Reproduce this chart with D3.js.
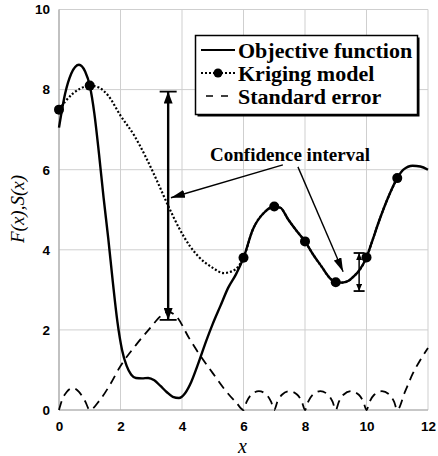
<!DOCTYPE html>
<html>
<head>
<meta charset="utf-8">
<script src="https://cdn.jsdelivr.net/npm/d3@7/dist/d3.min.js"></script>
<style>
  html, body { margin: 0; padding: 0; background: #fff; }
  svg { display: block; }
  .tick text { font-family: "Liberation Sans", Arial, sans-serif; font-weight: bold; font-size: 13.5px; fill: #000; }
</style>
</head>
<body>
<svg id="chart" width="438" height="456"></svg>
<script>
// Objective function F(x)
const objX = [0, 0.2, 0.4, 0.65, 0.85, 1.0, 1.15, 1.3, 1.45, 1.6, 1.75, 1.9, 2.05, 2.2, 2.35, 2.5, 2.7, 2.9, 3.1, 3.3, 3.5, 3.7, 3.9, 4.1, 4.3, 4.5, 4.8, 5.0, 5.25, 5.5, 5.75, 6.0, 6.3, 6.7, 7.0, 7.2, 7.46, 7.75, 8.0, 8.25, 8.54, 8.8, 9.0, 9.2, 9.4, 9.6, 9.75, 10.0, 10.2, 10.4, 10.7, 11.0, 11.2, 11.5, 11.75, 12.0];
const objY = [7.05, 7.9, 8.4, 8.62, 8.45, 8.1, 7.4, 6.4, 5.3, 4.3, 3.2, 2.2, 1.5, 1.1, 0.88, 0.8, 0.79, 0.8, 0.74, 0.6, 0.45, 0.33, 0.3, 0.42, 0.7, 1.1, 1.75, 2.15, 2.6, 3.05, 3.38, 3.8, 4.5, 4.95, 5.08, 5.05, 4.75, 4.45, 4.21, 3.9, 3.58, 3.3, 3.19, 3.18, 3.22, 3.35, 3.47, 3.81, 4.25, 4.7, 5.3, 5.79, 6.0, 6.1, 6.08, 6.0];

// Kriging model prediction
const krigX = [0, 0.2, 0.45, 0.7, 1.0, 1.3, 1.6, 2.0, 2.45, 2.8, 3.2, 3.55, 3.9, 4.25, 4.55, 5.0, 5.35, 5.65, 5.85, 6.0, 6.3, 6.7, 7.0, 7.2, 7.46, 7.75, 8.0, 8.25, 8.54, 8.8, 9.0, 9.2, 9.4, 9.6, 9.75, 10.0, 10.2, 10.4, 10.7, 11.0];
const krigY = [7.5, 7.7, 7.9, 8.03, 8.1, 8.05, 7.85, 7.35, 6.85, 6.35, 5.7, 5.1, 4.55, 4.1, 3.82, 3.55, 3.42, 3.47, 3.6, 3.8, 4.5, 4.95, 5.08, 5.05, 4.75, 4.45, 4.21, 3.9, 3.58, 3.3, 3.19, 3.18, 3.22, 3.35, 3.47, 3.81, 4.25, 4.7, 5.3, 5.79];

// Sample points
const sampleX = [0, 1, 6, 7, 8, 9, 10, 11];
const sampleY = [7.5, 8.1, 3.8, 5.08, 4.21, 3.19, 3.81, 5.79];

// Standard error S(x)
const seX = [0, 0.1, 0.25, 0.45, 0.65, 0.85, 1.0, 1.33, 1.65, 2.0, 2.5, 3.0, 3.3, 3.55, 3.8, 4.25, 4.6, 5.0, 5.4, 5.78, 6.0,
  6.1, 6.25, 6.5, 6.75, 6.9, 7.0, 7.1, 7.25, 7.5, 7.75, 7.9, 8.0, 8.1, 8.25, 8.5, 8.75, 8.9, 9.0,
  9.1, 9.25, 9.5, 9.75, 9.9, 10.0, 10.1, 10.25, 10.5, 10.75, 10.9, 11.0, 11.25, 11.5, 11.75, 12.0];
const seY = [0, 0.25, 0.45, 0.55, 0.45, 0.22, 0, 0.25, 0.62, 1.1, 1.62, 2.08, 2.34, 2.45, 2.35, 1.77, 1.35, 0.92, 0.5, 0.17, 0,
  0.2, 0.38, 0.47, 0.38, 0.2, 0, 0.2, 0.38, 0.47, 0.38, 0.2, 0, 0.2, 0.38, 0.47, 0.38, 0.2, 0,
  0.2, 0.38, 0.47, 0.38, 0.2, 0, 0.2, 0.38, 0.47, 0.38, 0.2, 0, 0.45, 0.9, 1.25, 1.55];

// Confidence intervals [x, low, high]
const intervalX = [3.55, 9.76];
const intervalLow = [2.25, 2.97];
const intervalHigh = [7.95, 3.92];

// Annotation pointer lines: start and tip (data units)
const noteText = "Confidence interval";
const pointerFromX = [7.28, 7.77];
const pointerFromY = [6.12, 6.07];
const pointerToX = [3.64, 9.24];
const pointerToY = [5.3, 3.45];

const xTicks = [0, 2, 4, 6, 8, 10, 12];
const yTicks = [0, 2, 4, 6, 8, 10];
const legendLabels = ["Objective function", "Kriging model", "Standard error"];

const svg = d3.select("#chart");
const plotL = 59, plotR = 428, plotT = 9.5, plotB = 410;
const x = d3.scaleLinear().domain([0, 12]).range([plotL, plotR]);
const y = d3.scaleLinear().domain([0, 10]).range([plotB, plotT]);

// grid
const grid = svg.append("g");
grid.selectAll("line.v").data(xTicks).join("line")
  .attr("x1", d => x(d)).attr("x2", d => x(d)).attr("y1", plotT).attr("y2", plotB)
  .attr("stroke", "#cfcfcf").attr("stroke-width", 1);
grid.selectAll("line.h").data(yTicks).join("line")
  .attr("x1", plotL).attr("x2", plotR).attr("y1", d => y(d)).attr("y2", d => y(d))
  .attr("stroke", "#cfcfcf").attr("stroke-width", 1);
grid.append("line").attr("x1", plotL).attr("x2", plotL).attr("y1", plotT).attr("y2", plotB)
  .attr("stroke", "#a8a8a8").attr("stroke-width", 1.2);
grid.append("line").attr("x1", plotL).attr("x2", plotR).attr("y1", plotB).attr("y2", plotB)
  .attr("stroke", "#a8a8a8").attr("stroke-width", 1.2);

// axes (labels only)
const xAxis = svg.append("g").attr("transform", `translate(0,${plotB})`)
  .call(d3.axisBottom(x).tickValues(xTicks).tickSize(0).tickPadding(11));
xAxis.select(".domain").remove();
const yAxis = svg.append("g").attr("transform", `translate(${plotL},0)`)
  .call(d3.axisLeft(y).tickValues(yTicks).tickSize(0).tickPadding(9));
yAxis.select(".domain").remove();

// axis titles
svg.append("text").attr("x", x(6) - 1).attr("y", 453)
  .attr("text-anchor", "middle")
  .style("font-family", "'Liberation Serif', 'Times New Roman', serif")
  .style("font-style", "italic").style("font-size", "20px").text("x");
svg.append("text").attr("transform", "translate(24,209) rotate(-90)")
  .attr("text-anchor", "middle")
  .style("font-family", "'Liberation Serif', 'Times New Roman', serif")
  .style("font-style", "italic").style("font-size", "19px").text("F(x),S(x)");

const line = d3.line().x(d => x(d[0])).y(d => y(d[1])).curve(d3.curveMonotoneX);
const seData = seX.map((v, i) => [v, seY[i]]);
const objData = objX.map((v, i) => [v, objY[i]]);
const krigData = krigX.map((v, i) => [v, krigY[i]]);

svg.append("path").datum(seData).attr("d", line)
  .attr("fill", "none").attr("stroke", "#000").attr("stroke-width", 1.8)
  .attr("stroke-dasharray", "9,6");
svg.append("path").datum(objData).attr("d", line)
  .attr("fill", "none").attr("stroke", "#000").attr("stroke-width", 2.4);
svg.append("path").datum(krigData).attr("d", line)
  .attr("fill", "none").attr("stroke", "#000").attr("stroke-width", 2.2)
  .attr("stroke-dasharray", "2,2");
svg.selectAll("circle.sample").data(sampleX).join("circle")
  .attr("cx", d => x(d)).attr("cy", (d, i) => y(sampleY[i])).attr("r", 5).attr("fill", "#000");

// arrowhead markers
const defs = svg.append("defs");
function marker(id, w, h) {
  defs.append("marker").attr("id", id).attr("viewBox", `0 0 ${w} ${h}`)
    .attr("refX", w).attr("refY", h / 2).attr("markerWidth", w).attr("markerHeight", h)
    .attr("markerUnits", "userSpaceOnUse").attr("orient", "auto-start-reverse")
    .append("path").attr("d", `M0,0L${w},${h / 2}L0,${h}Z`).attr("fill", "#000");
}
marker("headBig", 12, 9);
marker("headSmall", 7, 6);
marker("headNote", 14, 8);

// confidence intervals
const capW = [17, 11];
intervalX.forEach((xv, i) => {
  const g = svg.append("g");
  g.append("line").attr("x1", x(xv)).attr("x2", x(xv))
    .attr("y1", y(intervalLow[i])).attr("y2", y(intervalHigh[i]))
    .attr("stroke", "#000").attr("stroke-width", i === 0 ? 2.4 : 1.5)
    .attr("marker-start", `url(#${i === 0 ? "headBig" : "headSmall"})`)
    .attr("marker-end", `url(#${i === 0 ? "headBig" : "headSmall"})`);
  [intervalLow[i], intervalHigh[i]].forEach(v => {
    g.append("line").attr("x1", x(xv) - capW[i] / 2).attr("x2", x(xv) + capW[i] / 2)
      .attr("y1", y(v)).attr("y2", y(v)).attr("stroke", "#000").attr("stroke-width", 1.8);
  });
});

// annotation
pointerFromX.forEach((xv, i) => {
  svg.append("line").attr("x1", x(xv)).attr("y1", y(pointerFromY[i]))
    .attr("x2", x(pointerToX[i])).attr("y2", y(pointerToY[i]))
    .attr("stroke", "#000").attr("stroke-width", 1.4)
    .attr("marker-end", "url(#headNote)");
});
svg.append("text").attr("x", 290).attr("y", 161).attr("text-anchor", "middle")
  .style("font-family", "'Liberation Serif', 'Times New Roman', serif")
  .style("font-weight", "bold").style("font-size", "19px").text(noteText);

// legend
const lg = svg.append("g");
lg.append("rect").attr("x", 197.5).attr("y", 37.5).attr("width", 222).attr("height", 79).attr("fill", "#000");
lg.append("rect").attr("x", 195.5).attr("y", 35.5).attr("width", 222).attr("height", 79)
  .attr("fill", "#fff").attr("stroke", "#000").attr("stroke-width", 1.5);
const rowY = [50, 73, 96];
lg.append("line").attr("x1", 201).attr("x2", 235).attr("y1", rowY[0]).attr("y2", rowY[0])
  .attr("stroke", "#000").attr("stroke-width", 2.2);
lg.append("line").attr("x1", 201).attr("x2", 235).attr("y1", rowY[1]).attr("y2", rowY[1])
  .attr("stroke", "#000").attr("stroke-width", 2).attr("stroke-dasharray", "2,2");
lg.append("circle").attr("cx", 218).attr("cy", rowY[1]).attr("r", 4.5).attr("fill", "#000");
lg.append("line").attr("x1", 206).attr("x2", 234).attr("y1", rowY[2]).attr("y2", rowY[2])
  .attr("stroke", "#000").attr("stroke-width", 1.6).attr("stroke-dasharray", "7,8");
lg.selectAll("text").data(legendLabels).join("text")
  .attr("x", 238).attr("y", (d, i) => rowY[i] + 8)
  .style("font-family", "'Liberation Serif', 'Times New Roman', serif")
  .style("font-weight", "bold").style("font-size", "22px").text(d => d);
</script>
</body>
</html>
